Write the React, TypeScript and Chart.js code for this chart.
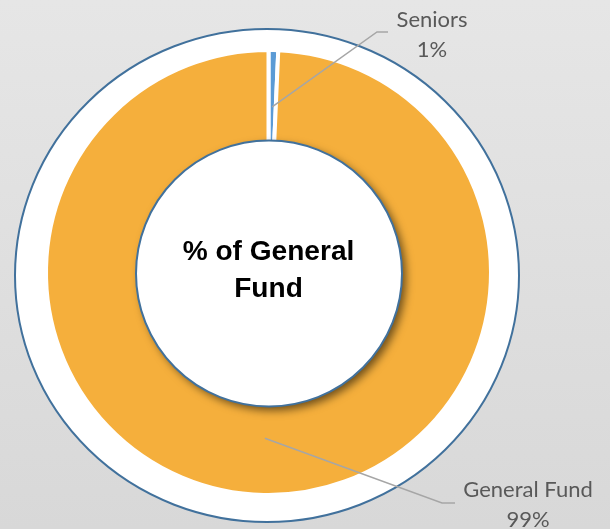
import React, { useEffect, useRef } from 'react';
import { Chart, registerables } from 'chart.js';

Chart.register(...registerables);

const categories = ['Seniors', 'General Fund'];
const shares = [0.7, 99.3];
const sliceColors = ['#5B9BD5', '#F5AF3C'];
const centerTitle = ['% of General', 'Fund'];

// layout anchors for the callout labels (canvas pixels)
const calloutLayout = [
  { elbow: [377, 32], end: [388, 32], text: [432, 27] },
  { elbow: [442, 503], end: [455, 503], text: [528, 497] },
];

export default function App() {
  const ref = useRef<HTMLCanvasElement>(null);

  useEffect(() => {
    const canvas = ref.current;
    if (!canvas) return;

    const decor = {
      id: 'decor',
      beforeDatasetsDraw(chart: any) {
        const ctx = chart.ctx;
        const arc = chart.getDatasetMeta(0).data[0];
        const { x, y, outerRadius } = arc.getProps(['x', 'y', 'outerRadius'], true);
        ctx.save();
        ctx.beginPath();
        ctx.ellipse(x - 1.5, y + 3, outerRadius + 29.5, outerRadius + 24, 0, 0, Math.PI * 2);
        ctx.fillStyle = '#ffffff';
        ctx.fill();
        ctx.lineWidth = 2;
        ctx.strokeStyle = '#41719C';
        ctx.stroke();
        ctx.restore();
      },
      afterDatasetsDraw(chart: any) {
        const ctx = chart.ctx;
        const meta = chart.getDatasetMeta(0);
        const first = meta.data[0];
        const { x, y, outerRadius } = first.getProps(['x', 'y', 'outerRadius'], true);
        const innerR = 133;

        // inner circle with shadow
        ctx.save();
        ctx.shadowColor = 'rgba(0,0,0,0.55)';
        ctx.shadowBlur = 8;
        ctx.shadowOffsetX = 4;
        ctx.shadowOffsetY = 4;
        ctx.beginPath();
        ctx.arc(x + 0.5, y + 1, innerR, 0, Math.PI * 2);
        ctx.fillStyle = '#ffffff';
        ctx.fill();
        ctx.restore();
        ctx.save();
        ctx.beginPath();
        ctx.arc(x + 0.5, y + 1, innerR, 0, Math.PI * 2);
        ctx.lineWidth = 2;
        ctx.strokeStyle = '#41719C';
        ctx.stroke();
        ctx.restore();

        // center title
        ctx.save();
        ctx.fillStyle = '#000000';
        ctx.font = 'bold 27px "Liberation Sans", Arial, sans-serif';
        ctx.textAlign = 'center';
        ctx.textBaseline = 'alphabetic';
        ctx.translate(x, 0);
        ctx.scale(1.04, 1);
        ctx.fillText(centerTitle[0], 0, 260);
        ctx.fillText(centerTitle[1], 0, 297);
        ctx.restore();

        // callouts
        const total = shares.reduce((a, b) => a + b, 0);
        meta.data.forEach((el: any, i: number) => {
          const p = el.getProps(['startAngle', 'endAngle'], true);
          const mid = (p.startAngle + p.endAngle) / 2;
          const r = outerRadius * 0.745;
          const sx = x + Math.cos(mid) * r;
          const sy = y + Math.sin(mid) * r;
          const lay = calloutLayout[i];
          ctx.save();
          ctx.strokeStyle = '#A6A6A6';
          ctx.lineWidth = 1.5;
          ctx.beginPath();
          ctx.moveTo(sx, sy);
          ctx.lineTo(lay.elbow[0], lay.elbow[1]);
          ctx.lineTo(lay.end[0], lay.end[1]);
          ctx.stroke();
          ctx.fillStyle = '#595959';
          ctx.font = '22px Lato, "Open Sans", sans-serif';
          ctx.textAlign = 'center';
          ctx.textBaseline = 'alphabetic';
          ctx.fillText(categories[i], lay.text[0], lay.text[1]);
          ctx.fillText(Math.round((shares[i] / total) * 100) + '%', lay.text[0], lay.text[1] + 29.5);
          ctx.restore();
        });
      },
    };

    const chart = new Chart(canvas, {
      type: 'doughnut',
      data: {
        labels: categories,
        datasets: [
          {
            data: shares,
            backgroundColor: sliceColors,
            borderColor: '#ffffff',
            borderWidth: 4,
            radius: 222.5,
            cutout: 120,
          },
        ],
      },
      options: {
        responsive: false,
        maintainAspectRatio: false,
        animation: false,
        devicePixelRatio: 1,
        layout: { padding: { left: 0, right: 73, top: 16, bottom: 0 } },
        plugins: {
          legend: { display: false },
          tooltip: { enabled: false },
        },
      },
      plugins: [decor],
    } as any);

    return () => chart.destroy();
  }, []);

  return (
    <div
      style={{
        position: 'fixed',
        left: 0,
        top: 0,
        width: 610,
        height: 529,
        background: 'linear-gradient(#e6e6e6, #d8d8d8)',
      }}
    >
      <canvas ref={ref} width={610} height={529} style={{ display: 'block' }} />
    </div>
  );
}
